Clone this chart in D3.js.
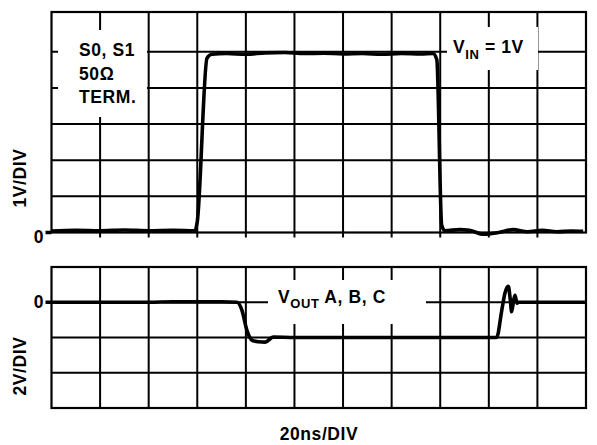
<!DOCTYPE html>
<html>
<head>
<meta charset="utf-8">
<script src="https://cdn.jsdelivr.net/npm/d3@7"></script>
<style>
  body { margin: 0; background: #fff; }
  text { font-family: "Liberation Sans", Arial, sans-serif; font-weight: bold; fill: #000; }
</style>
</head>
<body>
<div class="center"></div>
<script>
// grid divisions (time axis, 20ns per div)
var timeDivs = [0, 1, 2, 3, 4, 5, 6, 7, 8, 9, 10, 11];
var topDivs = [1, 2, 3, 4, 5];
var botDivs = [-2, -1, 0];

// input trace, in divisions (t = time div, v = volt div)
var vinT = [0, 0.5, 1, 1.5, 2, 2.5, 2.95, 3.0, 3.2, 3.3, 3.6, 4, 4.4, 4.8, 5.2, 5.6, 6, 6.4, 6.8, 7.2, 7.6, 7.85, 7.93, 8.03, 8.1, 8.4, 8.6, 8.9, 9.2, 9.5, 9.8, 10.1, 10.4, 10.7, 10.94];
var vinV = [0.04, 0.06, 0.05, 0.07, 0.05, 0.06, 0.05, 0.3, 4.82, 4.93, 4.95, 4.93, 4.97, 4.98, 4.95, 4.96, 4.94, 4.95, 4.93, 4.95, 4.94, 4.95, 4.78, 0.2, 0.05, 0.08, 0.06, -0.05, 0.0, 0.08, 0.02, 0.06, 0.02, 0.04, 0.03];

// output trace
var voutT = [0, 0.5, 1, 1.5, 2, 2.5, 3, 3.5, 3.82, 3.92, 4.02, 4.13, 4.25, 4.4, 4.56, 5, 5.5, 6, 6.5, 7, 7.5, 8, 8.5, 9.0, 9.16, 9.27, 9.33, 9.4, 9.44, 9.47, 9.51, 9.54, 9.58, 9.61, 9.8, 10.2, 10.6, 11];
var voutV = [0, 0, 0, 0, 0, 0.01, 0.01, 0.01, 0.0, -0.23, -0.79, -1.08, -1.12, -1.13, -0.99, -1.0, -1.0, -1.0, -1.0, -1.0, -1.0, -1.0, -1.0, -1.0, -1.0, -0.2, 0.25, 0.45, 0.1, -0.27, 0.05, 0.2, -0.03, 0.0, 0.0, 0.0, 0.0, 0.0];

var W = 597, H = 445;

var svg = d3.select("div.center").append("svg")
    .attr("width", W)
    .attr("height", H);

var x = d3.scaleLinear().domain([0, 11]).range([51.5, 586]);
var yTop = d3.scaleLinear().domain([0, 6.1]).range([232.5, 12]);
var yBot = d3.scaleLinear().domain([-3, 1]).range([408, 267]);

function drawPanel(y, divs, top, bottom) {
    var g = svg.append("g");
    // vertical grid
    g.selectAll("line.v")
        .data(timeDivs.slice(1, -1))
        .enter().append("line")
        .attr("x1", function(d) { return x(d); })
        .attr("x2", function(d) { return x(d); })
        .attr("y1", y(top))
        .attr("y2", y(bottom))
        .attr("stroke", "#000").attr("stroke-width", 2);
    // horizontal grid
    g.selectAll("line.h")
        .data(divs)
        .enter().append("line")
        .attr("x1", x(0))
        .attr("x2", x(11))
        .attr("y1", function(d) { return y(d); })
        .attr("y2", function(d) { return y(d); })
        .attr("stroke", "#000").attr("stroke-width", 2);
    // frame
    g.append("rect")
        .attr("x", x(0)).attr("y", y(top))
        .attr("width", x(11) - x(0))
        .attr("height", y(bottom) - y(top))
        .attr("fill", "none")
        .attr("stroke", "#000").attr("stroke-width", 2.2);
    return g;
}

drawPanel(yTop, topDivs, 6.1, 0);
drawPanel(yBot, botDivs, 1, -3);

// small ticks under the top panel
svg.selectAll("line.tk")
    .data(timeDivs.slice(1, -1))
    .enter().append("line")
    .attr("x1", function(d) { return x(d); })
    .attr("x2", function(d) { return x(d); })
    .attr("y1", yTop(0))
    .attr("y2", yTop(0) + 5)
    .attr("stroke", "#000").attr("stroke-width", 2);

// zero markers
svg.append("line").attr("x1", x(0) - 6).attr("x2", x(0))
    .attr("y1", yTop(0)).attr("y2", yTop(0))
    .attr("stroke", "#000").attr("stroke-width", 3.5);
svg.append("line").attr("x1", x(0) - 6).attr("x2", x(0))
    .attr("y1", yBot(0)).attr("y2", yBot(0))
    .attr("stroke", "#000").attr("stroke-width", 3.5);

// label boxes knock out the grid
svg.append("rect").attr("x", 58).attr("y", 30).attr("width", 89).attr("height", 87).attr("fill", "#fff");
svg.append("rect").attr("x", 447).attr("y", 27).attr("width", 91).attr("height", 43).attr("fill", "#fff");
svg.append("rect").attr("x", 268).attr("y", 280).attr("width", 158).attr("height", 44).attr("fill", "#fff");

// traces
var lineTop = d3.line()
    .x(function(d) { return x(d[0]); })
    .y(function(d) { return yTop(d[1]); })
    .curve(d3.curveMonotoneX);
var lineBot = d3.line()
    .x(function(d) { return x(d[0]); })
    .y(function(d) { return yBot(d[1]); })
    .curve(d3.curveMonotoneX);

svg.append("path")
    .datum(d3.zip(vinT, vinV))
    .attr("d", lineTop)
    .attr("fill", "none").attr("stroke", "#000")
    .attr("stroke-width", 3.6).attr("stroke-linejoin", "round");
svg.append("path")
    .datum(d3.zip(voutT, voutV))
    .attr("d", lineBot)
    .attr("fill", "none").attr("stroke", "#000")
    .attr("stroke-width", 3.6).attr("stroke-linejoin", "round");

// texts
var fs = 17.5, ls = 0.6, sub = 13;
function label(xp, yp, s) {
    return svg.append("text").attr("x", xp).attr("y", yp)
        .style("font-size", fs + "px").style("letter-spacing", ls + "px").text(s);
}
label(79, 56, "S0, S1");
label(79, 80, "50\u03A9");
label(79, 103, "TERM.");

var vin = svg.append("text").attr("x", 453).attr("y", 53)
    .style("font-size", fs + "px").style("letter-spacing", ls + "px");
vin.append("tspan").text("V");
vin.append("tspan").attr("dy", 6).style("font-size", sub + "px").text("IN");
vin.append("tspan").attr("dy", -6).text(" = 1V");

var vout = svg.append("text").attr("x", 278).attr("y", 303)
    .style("font-size", fs + "px").style("letter-spacing", ls + "px");
vout.append("tspan").text("V");
vout.append("tspan").attr("dy", 5).style("font-size", sub + "px").text("OUT");
vout.append("tspan").attr("dy", -5).text(" A, B, C");

svg.append("text").attr("x", 43.5).attr("y", yTop(0) + 10)
    .attr("text-anchor", "end").style("font-size", fs + "px").text("0");
svg.append("text").attr("x", 43.5).attr("y", yBot(0) + 6)
    .attr("text-anchor", "end").style("font-size", fs + "px").text("0");

svg.append("text").attr("transform", "translate(26,178) rotate(-90)")
    .attr("text-anchor", "middle").style("font-size", fs + "px").style("letter-spacing", ls + "px")
    .text("1V/DIV");
svg.append("text").attr("transform", "translate(26,366) rotate(-90)")
    .attr("text-anchor", "middle").style("font-size", fs + "px").style("letter-spacing", ls + "px")
    .text("2V/DIV");
svg.append("text").attr("x", 319).attr("y", 440)
    .attr("text-anchor", "middle").style("font-size", fs + "px").style("letter-spacing", ls + "px")
    .text("20ns/DIV");
</script>
</body>
</html>
